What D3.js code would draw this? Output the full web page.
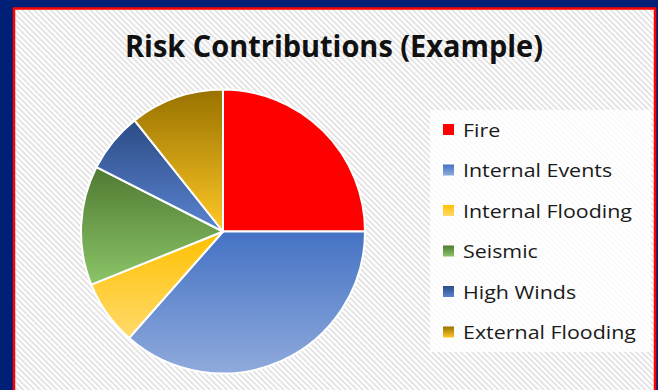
<!DOCTYPE html>
<html><head><meta charset="utf-8">
<script src="https://cdn.jsdelivr.net/npm/d3@7"></script>
<style>html,body{margin:0;padding:0;background:#002078;}svg{display:block;}</style>
</head><body>
<svg id="chart" width="658" height="390"></svg>
<script>
const categories = ["Fire","Internal Events","Internal Flooding","Seismic","High Winds","External Flooding"];
const values = [25, 36.5, 7.4, 13.6, 6.8, 10.7];
const title = "Risk Contributions (Example)";
const gradTop = ["#ff0000","#4472c4","#ffc000","#4e7a32","#2b4b85","#987200"];
const gradBottom = ["#ff0000","#8faadc","#ffda6b","#8cc468","#5b84d0","#ffc826"];

const svg = d3.select("#chart");
const defs = svg.append("defs");
const pat = defs.append("pattern").attr("id","hatch").attr("patternUnits","userSpaceOnUse")
  .attr("width",4).attr("height",4).attr("patternTransform","rotate(-45)");
pat.append("rect").attr("width",4).attr("height",4).attr("fill","#ffffff");
pat.append("rect").attr("width",1.6).attr("height",4).attr("fill","#dedede");

categories.forEach((c,i)=>{
  const g = defs.append("linearGradient").attr("id","g"+i).attr("x1",0).attr("y1",0).attr("x2",0).attr("y2",1);
  g.append("stop").attr("offset","0%").attr("stop-color",gradTop[i]);
  g.append("stop").attr("offset","100%").attr("stop-color",gradBottom[i]);
});

// background
svg.append("rect").attr("x",0).attr("y",0).attr("width",658).attr("height",390).attr("fill","#002078");
svg.append("rect").attr("x",14).attr("y",8.5).attr("width",641).attr("height",390).attr("fill","url(#hatch)")
  .attr("stroke","#ff0000").attr("stroke-width",2.5);

// title
const t = svg.append("text").attr("x",125).attr("y",56.5)
  .attr("font-family","'Open Sans', sans-serif").attr("font-weight","bold").attr("font-size",30)
  .attr("fill","#111").attr("textLength",418).attr("lengthAdjust","spacingAndGlyphs").text(title);

// pie
const cx = 223, cy = 231.5, r = 142;
const pie = d3.pie().sort(null).value(d=>d)(values);
const arc = d3.arc().innerRadius(0).outerRadius(r);
svg.append("g").attr("transform",`translate(${cx},${cy})`)
  .selectAll("path").data(pie).join("path")
  .attr("d",arc).attr("fill",(d,i)=>"url(#g"+i+")")
  .attr("stroke","#ffffff").attr("stroke-width",2).attr("stroke-linejoin","round");

// legend
svg.append("rect").attr("x",430).attr("y",110).attr("width",221).attr("height",242)
  .attr("fill","#ffffff").attr("fill-opacity",0.8);
const y = d3.scalePoint().domain(categories).range([136.5, 339]);
const lg = svg.append("g");
const items = lg.selectAll("g").data(categories).join("g");
items.append("rect").attr("x",443).attr("y",d=>y(d)-12.5).attr("width",11).attr("height",11)
  .attr("fill",(d,i)=>"url(#g"+i+")");
const labels = items.append("text").attr("x",463).attr("y",d=>y(d))
  .attr("font-family","'Open Sans', sans-serif").attr("font-size",18).attr("fill","#1a1a1a").text(d=>d);
const k = 173 / labels.nodes()[5].getComputedTextLength();
labels.each(function(){ const w=this.getComputedTextLength(); d3.select(this).attr("textLength",w*k).attr("lengthAdjust","spacingAndGlyphs"); });
</script>
</body></html>
